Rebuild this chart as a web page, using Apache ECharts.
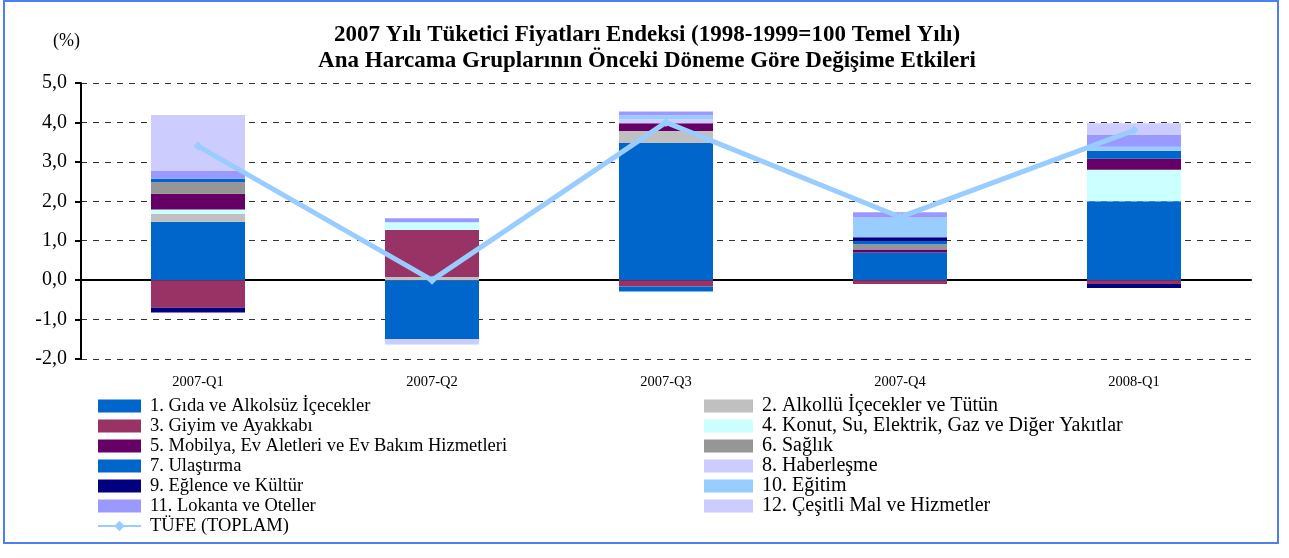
<!DOCTYPE html>
<html>
<head>
<meta charset="utf-8">
<script src="https://cdn.jsdelivr.net/npm/echarts@6/dist/echarts.min.js"></script>
<style>
  html, body { margin: 0; padding: 0; background: #fff; }
  #chart { width: 1289px; height: 558px; }
</style>
</head>
<body>
<div id="chart"></div>
<script>
var categories = ['2007-Q1', '2007-Q2', '2007-Q3', '2007-Q4', '2008-Q1'];

// katkilar (yuzde puan)
var gida       = [1.48, -1.50, 3.48, 0.70, 2.00];
var alkollu    = [0.20, 0.08, 0.30, 0, 0];
var giyim      = [-0.70, 1.19, -0.16, -0.10, -0.10];
var konut      = [0.11, 0.20, 0, 0, 0.80];
var mobilya    = [0.40, 0, 0.20, 0.08, 0.28];
var saglik     = [0.30, 0, 0, 0.13, 0];
var ulastirma  = [0.08, 0, -0.13, 0.08, 0.20];
var haberlesme = [0, 0, 0.10, 0, 0];
var eglence    = [-0.12, 0, 0, 0.10, -0.10];
var egitim     = [0, 0, 0.10, 0.50, 0.10];
var lokanta    = [0.20, 0.10, 0.10, 0.13, 0.30];
var cesitli    = [1.42, -0.13, 0, 0, 0.30];
var tufe       = [3.4, 0.0, 4.0, 1.6, 3.8];

var names = [
  '1. Gıda ve Alkolsüz İçecekler',
  '2. Alkollü İçecekler ve Tütün',
  '3. Giyim ve Ayakkabı',
  '4. Konut, Su, Elektrik, Gaz ve Diğer Yakıtlar',
  '5. Mobilya, Ev Aletleri ve Ev Bakım Hizmetleri',
  '6. Sağlık',
  '7. Ulaştırma',
  '8. Haberleşme',
  '9. Eğlence ve Kültür',
  '10. Eğitim',
  '11. Lokanta ve Oteller',
  '12. Çeşitli Mal ve Hizmetler'
];
var lineName = 'TÜFE (TOPLAM)';
var colors = ['#0066CC', '#C0C0C0', '#993366', '#CCFFFF', '#660066', '#969696',
              '#0066CC', '#CCCCFF', '#000080', '#99CCFF', '#9999FF', '#CCCCFF'];
var values = [gida, alkollu, giyim, konut, mobilya, saglik, ulastirma,
              haberlesme, eglence, egitim, lokanta, cesitli];

var serif = "'Liberation Serif', 'Times New Roman', serif";
var chart = echarts.init(document.getElementById('chart'));

var series = names.map(function (n, i) {
  return {
    name: n,
    type: 'bar',
    stack: 'katki',
    barWidth: 94,
    itemStyle: { color: colors[i] },
    data: values[i]
  };
});
series.push({
  name: lineName,
  type: 'line',
  data: tufe,
  symbol: 'diamond',
  symbolSize: 9,
  z: 5,
  itemStyle: { color: '#99CCFF' },
  lineStyle: { color: '#99CCFF', width: 5 }
});

function legendItems(idx, icon) {
  return idx.map(function (i) { return { name: names[i], icon: icon }; });
}

var option = {
  animation: false,
  textStyle: { fontFamily: serif },
  title: {
    text: '2007 Yılı Tüketici Fiyatları Endeksi (1998-1999=100 Temel Yılı)\nAna Harcama Gruplarının Önceki Döneme Göre Değişime Etkileri',
    left: 642,
    textAlign: 'center',
    top: 17,
    textStyle: { fontFamily: serif, fontSize: 23, fontWeight: 'bold', color: '#000', lineHeight: 26 }
  },
  graphic: [
    { type: 'rect', shape: { x: 4, y: 1, width: 1274, height: 542 },
      style: { fill: 'none', stroke: '#4d7ff0', lineWidth: 2 }, silent: true },
    { type: 'text', left: 53, top: 32,
      style: { text: '(%)', font: '18px ' + serif, fill: '#000' } }
  ],
  legend: [
    {
      orient: 'vertical', left: 92, top: 391, itemWidth: 43, itemHeight: 13, itemGap: 0,
      textStyle: { fontFamily: serif, fontSize: 18.5, color: '#000', lineHeight: 20, padding: [0, 0, 0, 4] },
      data: legendItems([0, 2, 4, 6, 8, 10], 'rect').concat([{ name: lineName }])
    },
    {
      orient: 'vertical', left: 699, top: 391, itemWidth: 49, itemHeight: 13, itemGap: 0,
      textStyle: { fontFamily: serif, fontSize: 20, color: '#000', lineHeight: 20, padding: [0, 0, 0, 4] },
      data: legendItems([1, 3, 5, 7, 9, 11], 'rect')
    }
  ],
  grid: { left: 81, right: 38, top: 83, height: 276 },
  xAxis: [
    {
      type: 'category',
      data: categories,
      position: 'bottom',
      axisLine: { show: false, onZero: false },
      axisTick: { show: false },
      axisLabel: { fontFamily: serif, fontSize: 14.5, color: '#000', margin: 16 }
    },
    {
      type: 'category',
      data: categories,
      position: 'bottom',
      axisLine: { onZero: true, lineStyle: { color: '#000', width: 2 } },
      axisTick: { alignWithLabel: true, length: 4, lineStyle: { color: '#000', width: 2 } },
      axisLabel: { show: false }
    }
  ],
  yAxis: {
    type: 'value',
    min: -2,
    max: 5,
    interval: 1,
    axisLine: { show: true, lineStyle: { color: '#000', width: 2 } },
    axisTick: { show: true, length: 6, lineStyle: { color: '#000', width: 2 } },
    axisLabel: {
      fontFamily: serif, fontSize: 20, color: '#000', margin: 14,
      formatter: function (v) { return v.toFixed(1).replace('.', ','); }
    },
    splitLine: { show: true, lineStyle: { color: '#333', width: 1, type: [6, 6] } }
  },
  series: series
};

chart.setOption(option);
</script>
</body>
</html>
